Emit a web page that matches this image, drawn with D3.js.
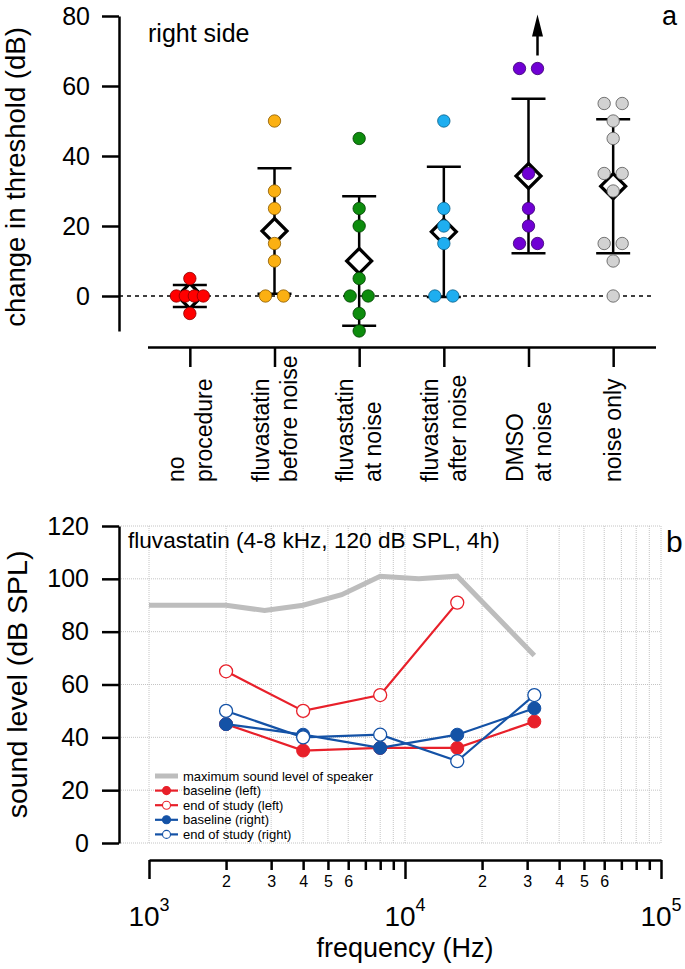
<!DOCTYPE html>
<html>
<head>
<meta charset="utf-8">
<script src="https://cdn.jsdelivr.net/npm/d3@7"></script>
<style>
  body { margin: 0; background: #fff; }
  svg { display: block; font-family: "Liberation Sans", Arial, sans-serif; }
</style>
</head>
<body>
<svg id="chart" width="685" height="969"></svg>
<script>
// ---- panel a data (change in threshold, dB) ----
const groups = ["no procedure", "fluvastatin before noise", "fluvastatin at noise",
  "fluvastatin after noise", "DMSO at noise", "noise only"];
const groupLabels = [["no", "procedure"], ["fluvastatin", "before noise"], ["fluvastatin", "at noise"],
  ["fluvastatin", "after noise"], ["DMSO", "at noise"], ["noise only"]];
const noProcedure = [5, 0, 0, 0, 0, -5];
const fluvaBefore = [50, 30, 25, 15, 10, 0, 0];
const fluvaAt = [45, 25, 20, 5, 0, 0, -5, -10];
const fluvaAfter = [50, 25, 20, 15, 0, 0];
const dmsoAt = [65, 65, 35, 25, 20, 15, 15];
const noiseOnly = [55, 55, 50, 45, 35, 35, 30, 15, 15, 10, 0];
const thresholdTicks = [0, 20, 40, 60, 80];

// ---- panel b data (sound level, dB SPL) ----
const speakerFreq = [1000, 2000, 2828, 4000, 5657, 8000, 11314, 16000, 22627, 32000];
const speakerMax = [90, 90, 88, 90, 94, 101, 100, 101, 86, 71];
const testFreq = [2000, 4000, 8000, 16000, 32000];
const baselineLeft = [45, 35, 36, 36, 46];
const endLeft = [65, 50, 56, 91, null];
const baselineRight = [45, 41, 36, 41, 51];
const endRight = [50, 40, 41, 31, 56];
const soundTicks = [0, 20, 40, 60, 80, 100, 120];

const groupValues = [noProcedure, fluvaBefore, fluvaAt, fluvaAfter, dmsoAt, noiseOnly];
const groupFill = ["#ff0000", "#fbb012", "#0d8c0d", "#1eaef0", "#7000d4", "#d2d2d2"];
const groupEdge = ["#8a0000", "#8a5a00", "#034003", "#0a5f88", "#3a006e", "#555555"];

const svg = d3.select("#chart");
svg.append("rect").attr("width", 685).attr("height", 969).attr("fill", "#fff");

// ================= panel a =================
const yA = d3.scaleLinear().domain([-10, 80]).range([331, 16]);
const xA = d3.scalePoint().domain(groups).range([147.5, 655.5]).padding(0.5);

const yAxisA = svg.append("g")
  .attr("transform", "translate(119,0)")
  .call(d3.axisLeft(yA).tickValues(thresholdTicks).tickSize(17).tickSizeOuter(0).tickPadding(12));
yAxisA.selectAll("path, line").attr("stroke", "#000").attr("stroke-width", 2.5);
yAxisA.selectAll("text").attr("font-size", 25).attr("fill", "#000").attr("font-family", null);

const xAxisA = svg.append("g")
  .attr("transform", "translate(0,347)")
  .call(d3.axisBottom(xA).tickSize(20).tickSizeOuter(0).tickFormat(""));
xAxisA.selectAll("path, line").attr("stroke", "#000").attr("stroke-width", 2.5);

groups.forEach((g, i) => {
  const lines = groupLabels[i];
  const t = svg.append("text")
    .attr("transform", `translate(${xA(g)},482) rotate(-90)`)
    .attr("font-size", 23)
    .attr("text-anchor", "start");
  lines.forEach((s, j) => {
    t.append("tspan")
      .attr("x", 0)
      .attr("y", (j - (lines.length - 1) / 2) * 28)
      .attr("dominant-baseline", "central")
      .text(s);
  });
});

svg.append("line")
  .attr("x1", 119).attr("x2", 655)
  .attr("y1", yA(0)).attr("y2", yA(0))
  .attr("stroke", "#000").attr("stroke-width", 1.6)
  .attr("stroke-dasharray", "4,4");

svg.append("text")
  .attr("x", 148).attr("y", 42)
  .attr("font-size", 25)
  .text("right side");

svg.append("text")
  .attr("x", 662).attr("y", 25)
  .attr("font-size", 27)
  .text("a");

// spread repeated values sideways
function jitter(vals) {
  const seen = {};
  const counts = d3.rollup(vals, v => v.length, d => d);
  return vals.map(v => {
    const n = counts.get(v);
    const k = seen[v] = (seen[v] || 0) + 1;
    const step = n > 1 ? Math.min(18, 27 / (n - 1)) : 0;
    return { v: v, dx: (k - 1 - (n - 1) / 2) * step };
  });
}

groups.forEach((g, i) => {
  const vals = groupValues[i];
  const cx = xA(g);
  const m = d3.mean(vals);
  const sd = d3.deviation(vals);
  const gg = svg.append("g");

  gg.append("line")
    .attr("x1", cx).attr("x2", cx)
    .attr("y1", yA(m - sd)).attr("y2", yA(m + sd))
    .attr("stroke", "#000").attr("stroke-width", 2.5);
  [m - sd, m + sd].forEach(v => {
    gg.append("line")
      .attr("x1", cx - 17).attr("x2", cx + 17)
      .attr("y1", yA(v)).attr("y2", yA(v))
      .attr("stroke", "#000").attr("stroke-width", 2.5);
  });

  const ym = yA(m);
  gg.append("path")
    .attr("d", `M${cx},${ym - 12.5}L${cx + 12.5},${ym}L${cx},${ym + 12.5}L${cx - 12.5},${ym}Z`)
    .attr("fill", "#fff").attr("stroke", "#000").attr("stroke-width", 3.2)
    .attr("stroke-linejoin", "miter");

  gg.selectAll("circle")
    .data(jitter(vals))
    .enter()
    .append("circle")
    .attr("cx", d => cx + d.dx)
    .attr("cy", d => yA(d.v))
    .attr("r", 6.2)
    .attr("fill", groupFill[i])
    .attr("stroke", groupEdge[i])
    .attr("stroke-width", 0.8);
});

// arrow above DMSO: value beyond scale
{
  const pts = jitter(dmsoAt);
  const top = pts.reduce((a, b) => (b.v > a.v || (b.v === a.v && b.dx > a.dx)) ? b : a);
  const ax = xA("DMSO at noise") + top.dx;
  const y0 = yA(top.v) - 13;
  svg.append("line")
    .attr("x1", ax).attr("x2", ax).attr("y1", y0).attr("y2", y0 - 20)
    .attr("stroke", "#000").attr("stroke-width", 2.5);
  svg.append("path")
    .attr("d", `M${ax},${y0 - 41}L${ax + 5.5},${y0 - 19}L${ax - 5.5},${y0 - 19}Z`)
    .attr("fill", "#000");
}

svg.append("text")
  .attr("transform", `translate(25,177) rotate(-90)`)
  .attr("text-anchor", "middle")
  .attr("font-size", 27.5)
  .text("change in threshold (dB)");

// ================= panel b =================
const yB = d3.scaleLinear().domain([0, 120]).range([843, 526]);
const xB = d3.scaleLog().domain([1e3, 1e5]).range([149, 661]);

const minorTicks = [];
[1e3, 1e4].forEach(dec => { for (let k = 2; k <= 9; k++) minorTicks.push(k * dec); });
const decades = [1e3, 1e4, 1e5];

// grid
const grid = svg.append("g").attr("stroke", "#c4c4c4").attr("stroke-width", 1).attr("stroke-dasharray", "1,1");
soundTicks.forEach(v => {
  grid.append("line").attr("x1", 119).attr("x2", xB(1e5)).attr("y1", yB(v)).attr("y2", yB(v));
});
minorTicks.concat(decades).forEach(f => {
  grid.append("line").attr("x1", xB(f)).attr("x2", xB(f)).attr("y1", yB(120)).attr("y2", yB(0));
});

const yAxisB = svg.append("g")
  .attr("transform", "translate(119,0)")
  .call(d3.axisLeft(yB).tickValues(soundTicks).tickSize(17).tickSizeOuter(0).tickPadding(13));
yAxisB.selectAll("path, line").attr("stroke", "#000").attr("stroke-width", 2.5);
yAxisB.selectAll("text").attr("font-size", 25).attr("fill", "#000");

const xAxisB = svg.append("g").attr("transform", "translate(0,860)")
  .call(d3.axisBottom(xB).tickValues(decades).tickSize(19).tickSizeOuter(0).tickFormat(""));
xAxisB.selectAll("path, line").attr("stroke", "#000").attr("stroke-width", 2.5);

const xMinor = svg.append("g").attr("transform", "translate(0,860)")
  .call(d3.axisBottom(xB).tickValues(minorTicks).tickSize(10).tickSizeOuter(0).tickPadding(6)
    .tickFormat(d => {
      const k = Math.round(d / Math.pow(10, Math.floor(Math.log10(d))));
      return k <= 6 ? String(k) : "";
    }));
xMinor.select(".domain").remove();
xMinor.selectAll("line").attr("stroke", "#000").attr("stroke-width", 2.5);
xMinor.selectAll("text").attr("font-size", 16).attr("fill", "#000");

decades.forEach(d => {
  const t = svg.append("text")
    .attr("x", xB(d)).attr("y", 926)
    .attr("text-anchor", "middle")
    .attr("font-size", 28);
  t.append("tspan").text("10");
  t.append("tspan").attr("dy", -15).attr("font-size", 18).text(String(Math.round(Math.log10(d))));
});

svg.append("text")
  .attr("x", xB(1e4)).attr("y", 957)
  .attr("text-anchor", "middle")
  .attr("font-size", 27)
  .text("frequency (Hz)");

svg.append("text")
  .attr("transform", `translate(27,${(yB(0) + yB(120)) / 2}) rotate(-90)`)
  .attr("text-anchor", "middle")
  .attr("font-size", 28.5)
  .text("sound level (dB SPL)");

svg.append("text")
  .attr("x", 128).attr("y", 548)
  .attr("font-size", 22.6)
  .text("fluvastatin (4-8 kHz, 120 dB SPL, 4h)");

svg.append("text")
  .attr("x", 666).attr("y", 552)
  .attr("font-size", 30)
  .text("b");

const red = "#e8202a";
const blue = "#1452a6";

const line = d3.line()
  .defined(d => d.v != null)
  .x(d => xB(d.f))
  .y(d => yB(d.v));

svg.append("path")
  .datum(speakerFreq.map((f, i) => ({ f: f, v: speakerMax[i] })))
  .attr("d", line)
  .attr("fill", "none").attr("stroke", "#bdbdbd").attr("stroke-width", 5);

const series = [
  { vals: baselineLeft, color: red, open: false },
  { vals: endLeft, color: red, open: true },
  { vals: baselineRight, color: blue, open: false },
  { vals: endRight, color: blue, open: true }
];

series.forEach(s => {
  const pts = testFreq.map((f, i) => ({ f: f, v: s.vals[i] }));
  svg.append("path")
    .datum(pts)
    .attr("d", line)
    .attr("fill", "none").attr("stroke", s.color).attr("stroke-width", 2.2);
  svg.append("g").selectAll("circle")
    .data(pts.filter(d => d.v != null))
    .enter()
    .append("circle")
    .attr("cx", d => xB(d.f))
    .attr("cy", d => yB(d.v))
    .attr("r", 6.5)
    .attr("fill", s.open ? "#fff" : s.color)
    .attr("stroke", s.color)
    .attr("stroke-width", s.open ? 1.3 : 1);
});

// legend
const legendItems = [
  { label: "maximum sound level of speaker", color: "#bdbdbd", marker: null },
  { label: "baseline (left)", color: red, marker: "filled" },
  { label: "end of study (left)", color: red, marker: "open" },
  { label: "baseline (right)", color: blue, marker: "filled" },
  { label: "end of study (right)", color: blue, marker: "open" }
];
const legend = svg.append("g").attr("transform", "translate(155,776)");
legendItems.forEach((it, i) => {
  const row = legend.append("g").attr("transform", `translate(0,${i * 14.6})`);
  row.append("line")
    .attr("x1", 0).attr("x2", 23).attr("y1", 0).attr("y2", 0)
    .attr("stroke", it.color).attr("stroke-width", it.marker ? 2.2 : 5);
  if (it.marker) {
    row.append("circle")
      .attr("cx", 11.5).attr("cy", 0).attr("r", 4)
      .attr("fill", it.marker === "open" ? "#fff" : it.color)
      .attr("stroke", it.color).attr("stroke-width", 1.1);
  }
  row.append("text")
    .attr("x", 28).attr("y", 0)
    .attr("dominant-baseline", "central")
    .attr("font-size", 13)
    .text(it.label);
});
</script>
</body>
</html>
